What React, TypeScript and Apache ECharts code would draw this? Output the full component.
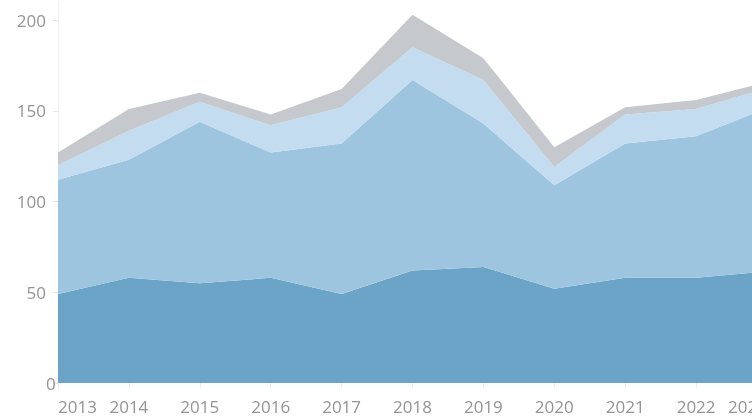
import React, { useEffect, useRef } from "react";
import * as echarts from "echarts";

const years = ["2013", "2014", "2015", "2016", "2017", "2018", "2019", "2020", "2021", "2022", "2023"];
const seriesA = [49, 58, 55, 58, 49, 62, 64, 52, 58, 58, 61.5];
const seriesB = [63, 65, 89, 69, 83, 105, 79, 57, 74, 78, 90];
const seriesC = [8, 16, 11, 15, 20, 18, 24, 10, 16, 15, 11];
const seriesD = [7, 12, 5, 6, 10, 18, 12, 11, 4, 5, 3.5];
const colors = ["#6ca4c8", "#9dc5e0", "#c4dcef", "#c5c9ce"];

export default function App() {
  const ref = useRef<HTMLDivElement>(null);
  useEffect(() => {
    if (!ref.current) return;
    const chart = echarts.init(ref.current, null, { renderer: "svg" });
    const mk = (name: string, data: number[], i: number) => ({
      name,
      type: "line",
      stack: "total",
      data,
      symbol: "none",
      lineStyle: { width: 0 },
      areaStyle: { color: colors[i], opacity: 1 },
      itemStyle: { color: colors[i] },
    });
    chart.setOption({
      animation: false,
      grid: { left: 58, right: 2, top: 2, bottom: 35, containLabel: false },
      xAxis: {
        type: "category",
        data: years,
        boundaryGap: false,
        axisLine: { show: false },
        axisTick: { show: true, length: 5, lineStyle: { color: "#eeeeee" } },
        axisLabel: {
          color: "#949494",
          fontFamily: "Open Sans",
          fontSize: 17,
          margin: 15,
          alignMinLabel: "left",
          alignMaxLabel: "right",
        },
        splitLine: { show: false },
      },
      yAxis: {
        type: "value",
        min: 0,
        max: 210,
        interval: 50,
        axisLine: { show: true, lineStyle: { color: "#f0f0f0" } },
        axisTick: { show: true, length: 5, lineStyle: { color: "#e6e6e6" } },
        axisLabel: {
          color: "#949494",
          fontFamily: "Open Sans",
          fontSize: 17,
          margin: 12,
          showMaxLabel: false,
          alignMinLabel: "bottom",
        },
        splitLine: { show: false },
      },
      series: [
        mk("A", seriesA, 0),
        mk("B", seriesB, 1),
        mk("C", seriesC, 2),
        mk("D", seriesD, 3),
      ],
    });
    return () => chart.dispose();
  }, []);
  return (
    <div style={{ position: "fixed", left: 0, top: 0, width: 752, height: 418, overflow: "hidden" }}>
      <div ref={ref} style={{ width: 770, height: 418 }} />
    </div>
  );
}
